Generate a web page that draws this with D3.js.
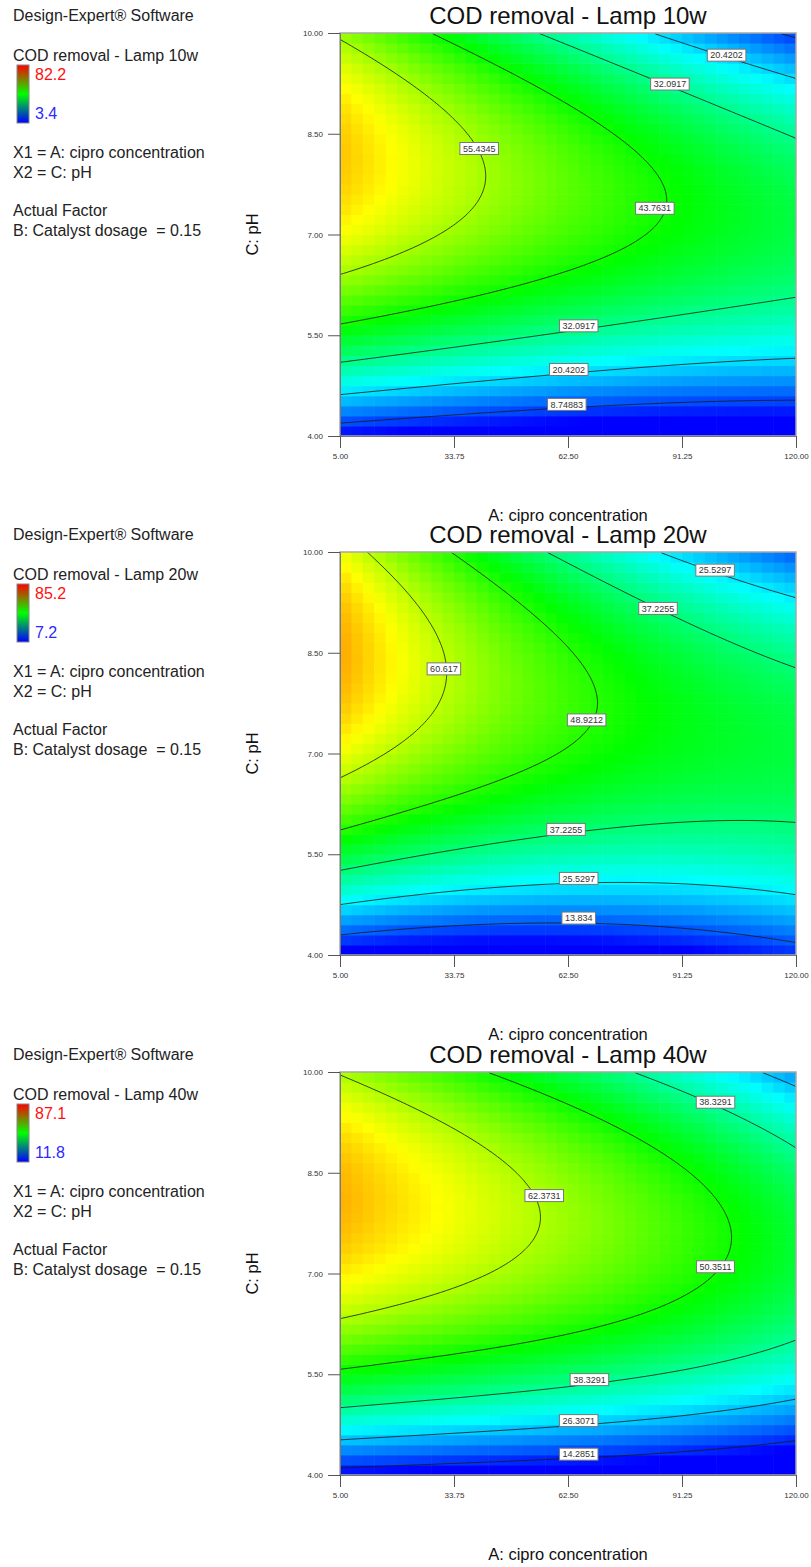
<!DOCTYPE html>
<html>
<head>
<meta charset="utf-8">
<script src="https://cdn.jsdelivr.net/npm/d3@7"></script>
<style>
  body { margin: 0; background: #fff; }
  text { font-family: "Liberation Sans", Arial, sans-serif; }
</style>
</head>
<body>
<script>
// ---- data ----
var ciproTicks = [5, 33.75, 62.5, 91.25, 120];
var phTicks = [4, 5.5, 7, 8.5, 10];
var panelTitles = ["COD removal - Lamp 10w", "COD removal - Lamp 20w", "COD removal - Lamp 40w"];
var legendRanges = [[3.4, 82.2], [7.2, 85.2], [11.8, 87.1]];

var levels10 = [8.74883, 20.4202, 32.0917, 43.7631, 55.4345];
var levels20 = [13.834, 25.5297, 37.2255, 48.9212, 60.617];
var levels40 = [14.2851, 26.3071, 38.3291, 50.3511, 62.3731];

// [cipro, pH, response] : points (+ peak / colour readings)
var points10 = [
  [5, 4.21, 8.74883], [62.5, 4.43, 8.74883], [120, 4.52, 8.74883], [116, 10, 8.74883], [120, 9.9, 8.74883],
  [108, 10, 11.7], [120, 9.75, 11.7], [100, 10, 14.6], [120, 9.6, 14.6], [92, 10, 17.5], [120, 9.42, 17.5],
  [5, 4.61, 20.4202], [62.5, 4.90, 20.4202], [120, 5.17, 20.4202], [84, 10, 20.4202], [102.5, 9.67, 20.4202], [120, 9.25, 20.4202],
  [5, 5.09, 32.0917], [50.5, 5.44, 32.0917], [65.5, 5.60, 32.0917], [90.2, 5.78, 32.0917], [120, 6.15, 32.0917],
  [55.2, 10, 32.0917], [88.2, 9.25, 32.0917], [120, 8.85, 32.0917],
  [5, 5.67, 43.7631], [29.5, 5.93, 43.7631], [54.8, 6.32, 43.7631], [75.8, 6.77, 43.7631], [83.9, 7.27, 43.7631],
  [85.2, 7.5, 43.7631], [78, 8.1, 43.7631], [67.2, 8.7, 43.7631], [28.2, 10, 43.7631],
  [5, 9.91, 55.4345], [17.4, 9.42, 55.4345], [33.3, 8.75, 55.4345], [41.8, 7.875, 55.4345], [39.6, 7.51, 55.4345],
  [29.5, 6.97, 55.4345], [16.9, 6.62, 55.4345], [5, 6.40, 55.4345],
  [5, 8.15, 67.1]
];
var points20 = [
  [5, 4.30, 13.834], [62.5, 4.46, 13.834], [91.25, 4.40, 13.834], [120, 4.20, 13.834],
  [5, 4.75, 25.5297], [65.3, 5.08, 25.5297], [91.25, 5.04, 25.5297], [120, 4.89, 25.5297],
  [84.5, 10, 25.5297], [99.6, 9.73, 25.5297], [120, 9.30, 25.5297],
  [5, 5.26, 37.2255], [62, 5.87, 37.2255], [99.3, 5.99, 37.2255], [120, 5.94, 37.2255],
  [56.7, 10, 37.2255], [80.8, 9.29, 37.2255], [85.2, 9.16, 37.2255], [120, 8.27, 37.2255],
  [5.9, 5.89, 48.9212], [29.5, 6.26, 48.9212], [54.8, 6.85, 48.9212], [66.6, 7.34, 48.9212], [68.2, 7.79, 48.9212],
  [60.5, 8.69, 48.9212], [52, 9.29, 48.9212], [32.5, 10, 48.9212],
  [12.3, 10, 60.617], [21.1, 9.39, 60.617], [29.5, 8.68, 60.617], [31.2, 8.19, 60.617], [29.5, 7.68, 60.617],
  [21.1, 7.09, 60.617], [5, 6.64, 60.617],
  [5, 8.3, 72.3]
];
var points40 = [
  [5, 4.10, 14.2851], [65.2, 4.26, 14.2851], [120, 4.50, 14.2851],
  [5, 4.52, 26.3071], [65.2, 4.74, 26.3071], [120, 5.13, 26.3071], [110, 10, 26.3071], [120, 9.79, 26.3071],
  [5, 5.0, 38.3291], [67.9, 5.38, 38.3291], [120, 6.02, 38.3291], [78, 10, 38.3291], [99.7, 9.55, 38.3291], [120, 8.89, 38.3291],
  [5, 5.59, 50.3511], [62.4, 6.07, 50.3511], [89.8, 6.62, 50.3511], [99.7, 7.1, 50.3511], [104, 7.54, 50.3511],
  [98.9, 8.09, 50.3511], [89.8, 8.59, 50.3511], [71.5, 9.34, 50.3511], [42.8, 10, 50.3511],
  [5, 6.35, 62.3731], [35, 6.74, 62.3731], [53.3, 7.36, 62.3731], [57.8, 7.79, 62.3731], [55.1, 8.19, 62.3731],
  [35, 8.9, 62.3731], [16.7, 9.60, 62.3731], [5, 10, 62.3731],
  [5, 8.1, 74.4]
];

// contour label anchors [cipro, pH, level]
var labels10 = [[102.5, 9.67, 20.4202], [88.2, 9.24, 32.0917], [40.1, 8.28, 55.4345], [84.4, 7.39, 43.7631],
  [65.2, 5.64, 32.0917], [62.7, 4.99, 20.4202], [62.2, 4.47, 8.74883]];
var labels20 = [[99.6, 9.73, 25.5297], [85.2, 9.16, 37.2255], [31.2, 8.26, 60.617], [67.2, 7.50, 48.9212],
  [62, 5.87, 37.2255], [65.2, 5.14, 25.5297], [65.2, 4.55, 13.834]];
var labels40 = [[99.7, 9.55, 38.3291], [56.5, 8.16, 62.3731], [99.7, 7.10, 50.3511],
  [67.9, 5.42, 38.3291], [65.2, 4.81, 26.3071], [65.2, 4.31, 14.2851]];

var panels = [
  {title: panelTitles[0], range: legendRanges[0], levels: levels10, points: points10, labels: labels10},
  {title: panelTitles[1], range: legendRanges[1], levels: levels20, points: points20, labels: labels20},
  {title: panelTitles[2], range: legendRanges[2], levels: levels40, points: points40, labels: labels40}
];

// ---- layout ----
var width = 811, height = 1567;
var plotLeft = 340, plotW = 456, plotH = 403;
var panelTops = [33, 552, 1072];
var nCells = 40;

var svg = d3.select("body").append("svg").attr("width", width).attr("height", height);

var defs = svg.append("defs");
var grad = defs.append("linearGradient").attr("id", "legendGrad")
  .attr("x1", 0).attr("y1", 0).attr("x2", 0).attr("y2", 1);
grad.append("stop").attr("offset", "0%").attr("stop-color", "#ff0000");
grad.append("stop").attr("offset", "50%").attr("stop-color", "#00ff00");
grad.append("stop").attr("offset", "100%").attr("stop-color", "#0000ff");

// cubic response surface fitted (least squares) to the points
function terms(A, pH) {
  var a = (A - 62.5) / 57.5, c = (pH - 7) / 3;
  return [1, a, c, a * c, a * a, c * c, a * a * c, a * c * c, a * a * a, c * c * c];
}
function fitSurface(points) {
  var k = 10;
  var M = d3.range(k).map(function () { return new Array(k + 1).fill(0); });
  points.forEach(function (p) {
    var t = terms(p[0], p[1]);
    for (var i = 0; i < k; i++) {
      for (var j = 0; j < k; j++) M[i][j] += t[i] * t[j];
      M[i][k] += t[i] * p[2];
    }
  });
  for (var i = 0; i < k; i++) M[i][i] += 1e-6;
  for (var col = 0; col < k; col++) {
    var piv = col;
    for (var r = col + 1; r < k; r++) if (Math.abs(M[r][col]) > Math.abs(M[piv][col])) piv = r;
    var tmp = M[col]; M[col] = M[piv]; M[piv] = tmp;
    for (var r = 0; r < k; r++) {
      if (r === col) continue;
      var f = M[r][col] / M[col][col];
      for (var j = col; j <= k; j++) M[r][j] -= f * M[col][j];
    }
  }
  var coef = M.map(function (row, i) { return row[k] / row[i]; });
  return function (A, pH) {
    return d3.sum(terms(A, pH), function (t, i) { return t * coef[i]; });
  };
}

panels.forEach(function (p, k) {
  var top = panelTops[k];
  var off = top - 33;
  var g = svg.append("g");

  var x = d3.scaleLinear().domain([5, 120]).range([plotLeft, plotLeft + plotW]);
  var y = d3.scaleLinear().domain([4, 10]).range([top + plotH, top]);
  var surf = fitSurface(p.points);

  var lo = p.range[0], hi = p.range[1], q = (hi - lo) / 4;
  var color = d3.scaleLinear()
    .domain([lo, lo + q, lo + 2 * q, lo + 3 * q, hi])
    .range(["#0000ff", "#00ffff", "#00ff00", "#ffff00", "#ff0000"])
    .clamp(true);

  // left info block
  var info = g.append("g").attr("fill", "#222").style("font-size", "16px");
  info.append("text").attr("x", 13).attr("y", off + 21).text("Design-Expert\u00ae Software");
  info.append("text").attr("x", 13).attr("y", off + 61).text(p.title);
  info.append("rect").attr("x", 17).attr("y", off + 65).attr("width", 12).attr("height", 58)
    .attr("fill", "url(#legendGrad)").attr("stroke", "#888").attr("stroke-width", 1);
  info.append("text").attr("x", 35).attr("y", off + 80).attr("fill", "#ff1010").text(p.range[1]);
  info.append("text").attr("x", 35).attr("y", off + 119).attr("fill", "#2a2aff").text(p.range[0]);
  info.append("text").attr("x", 13).attr("y", off + 158).text("X1 = A: cipro concentration");
  info.append("text").attr("x", 13).attr("y", off + 178).text("X2 = C: pH");
  info.append("text").attr("x", 13).attr("y", off + 216).text("Actual Factor");
  info.append("text").attr("x", 13).attr("y", off + 236).text("B: Catalyst dosage \u00a0= 0.15");

  // title
  g.append("text").attr("x", plotLeft + plotW / 2).attr("y", top - 9)
    .attr("text-anchor", "middle").style("font-size", "24px").attr("fill", "#111").text(p.title);

  var clipId = "clip" + k;
  defs.append("clipPath").attr("id", clipId).append("rect")
    .attr("x", plotLeft).attr("y", top).attr("width", plotW).attr("height", plotH);
  var plot = g.append("g").attr("clip-path", "url(#" + clipId + ")");

  // coloured cells
  var step = 115 / nCells, phStep = 6 / nCells;
  var cells = [];
  d3.range(nCells).forEach(function (j) {
    d3.range(nCells).forEach(function (i) {
      var a0 = 5 + i * step, p0 = 4 + j * phStep;
      cells.push({a0: a0, a1: a0 + step, p0: p0, p1: p0 + phStep, v: surf(a0 + step / 2, p0 + phStep / 2)});
    });
  });
  plot.selectAll("rect.cell").data(cells).enter().append("rect")
    .attr("class", "cell")
    .attr("x", function (d) { return x(d.a0); })
    .attr("y", function (d) { return y(d.p1); })
    .attr("width", function (d) { return x(d.a1) - x(d.a0) + 0.6; })
    .attr("height", function (d) { return y(d.p0) - y(d.p1) + 0.6; })
    .attr("fill", function (d) { return color(d.v); });

  // contour lines on a fine grid
  var nx = 228, ny = 202;
  var vals = new Array(nx * ny);
  for (var j = 0; j < ny; j++) {
    for (var i = 0; i < nx; i++) {
      vals[j * nx + i] = surf(5 + (i + 0.5) / nx * 115, 10 - (j + 0.5) / ny * 6);
    }
  }
  var gx = d3.scaleLinear().domain([0, nx]).range([plotLeft, plotLeft + plotW]);
  var gy = d3.scaleLinear().domain([0, ny]).range([top, top + plotH]);
  var contours = d3.contours().size([nx, ny]).thresholds(p.levels)(vals);
  function edge(a, b) {
    return (a[0] === 0 && b[0] === 0) || (a[0] === nx && b[0] === nx) ||
      (a[1] === 0 && b[1] === 0) || (a[1] === ny && b[1] === ny);
  }
  plot.selectAll("path.contour").data(contours).enter().append("path")
    .attr("class", "contour")
    .attr("fill", "none")
    .attr("stroke", "#1a1a1a")
    .attr("stroke-opacity", 0.8)
    .attr("stroke-width", 1)
    .attr("d", function (geom) {
      var d = "";
      geom.coordinates.forEach(function (poly) {
        poly.forEach(function (ring) {
          var pen = false;
          for (var i = 1; i < ring.length; i++) {
            var a = ring[i - 1], b = ring[i];
            if (edge(a, b)) { pen = false; continue; }
            if (!pen) { d += "M" + gx(a[0]) + "," + gy(a[1]); pen = true; }
            d += "L" + gx(b[0]) + "," + gy(b[1]);
          }
        });
      });
      return d;
    });

  // frame
  g.append("rect").attr("x", plotLeft).attr("y", top).attr("width", plotW).attr("height", plotH)
    .attr("fill", "none").attr("stroke", "#a8a8a8").attr("stroke-width", 1.5);

  // contour labels
  var lab = g.selectAll("g.lab").data(p.labels).enter().append("g").attr("class", "lab")
    .attr("transform", function (d) { return "translate(" + x(d[0]) + "," + y(d[1]) + ")"; });
  var box = lab.append("rect").attr("fill", "#fff").attr("stroke", "#777").attr("stroke-width", 1);
  var lt = lab.append("text").attr("text-anchor", "middle").attr("dy", "0.35em")
    .style("font-size", "9px").attr("fill", "#333").text(function (d) { return String(d[2]); });
  lt.each(function (d, i) {
    var w = this.getComputedTextLength() + 6;
    d3.select(box.nodes()[i]).attr("x", -w / 2).attr("y", -6).attr("width", w).attr("height", 12);
  });

  // axes
  var yAxis = g.append("g").attr("transform", "translate(" + plotLeft + ",0)")
    .call(d3.axisLeft(y).tickValues(phTicks).tickFormat(d3.format(".2f"))
      .tickSizeInner(12).tickSizeOuter(0).tickPadding(5));
  var xAxis = g.append("g").attr("transform", "translate(0," + (top + plotH) + ")")
    .call(d3.axisBottom(x).tickValues(ciproTicks).tickFormat(d3.format(".2f"))
      .tickSizeInner(12).tickSizeOuter(0).tickPadding(5));
  [yAxis, xAxis].forEach(function (ax) {
    ax.selectAll("text").style("font-size", "8px").attr("fill", "#333")
      .style("font-family", "'Liberation Sans', Arial, sans-serif");
    ax.selectAll("line").attr("stroke", "#555");
    ax.select(".domain").attr("stroke", "#777");
  });

  // axis titles
  g.append("text").attr("x", plotLeft + plotW / 2).attr("y", top + plotH + 85)
    .attr("text-anchor", "middle").style("font-size", "16.5px").attr("fill", "#111")
    .text("A: cipro concentration");
  g.append("text").attr("transform", "translate(258," + (top + plotH / 2) + ") rotate(-90)")
    .attr("text-anchor", "middle").style("font-size", "16.5px").attr("fill", "#111")
    .text("C: pH");
});
</script>
</body>
</html>
